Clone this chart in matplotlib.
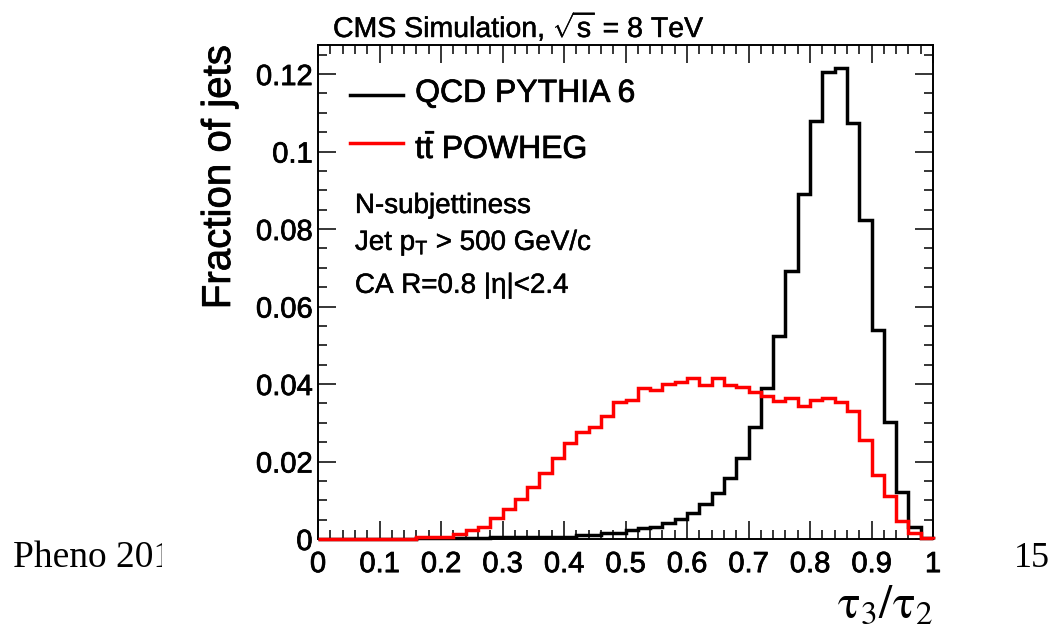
import numpy as np
import matplotlib
matplotlib.use("Agg")
import matplotlib.pyplot as plt
import matplotlib.patheffects as pe
from matplotlib.lines import Line2D
from matplotlib.ticker import MultipleLocator, FormatStrFormatter
from matplotlib.transforms import Bbox, TransformedBbox

plt.rcParams["font.family"] = ["Liberation Sans", "DejaVu Sans"]
plt.rcParams["mathtext.fontset"] = "custom"
plt.rcParams["mathtext.rm"] = "Liberation Sans"
plt.rcParams["mathtext.it"] = "Liberation Sans"
plt.rcParams["mathtext.bf"] = "Liberation Sans:bold"

# tau3/tau2 binning: 50 bins from 0 to 1
bin_edges = np.linspace(0.0, 1.0, 51)

# QCD PYTHIA 6, fraction of jets per bin
qcd_frac = [
    0, 0, 0, 0, 0, 0, 0, 0, 0.0002, 0.0002,
    0.0002, 0.0002, 0.0002, 0.0002, 0.0004, 0.0004, 0.0004, 0.0005, 0.0005, 0.0006,
    0.0006, 0.0010, 0.0010, 0.0015, 0.0015, 0.0023, 0.0028, 0.0032, 0.0042, 0.0051,
    0.0068, 0.0090, 0.0118, 0.0157, 0.0210, 0.0290, 0.0391, 0.0524, 0.0692, 0.0890,
    0.1079, 0.1206, 0.1215, 0.1073, 0.0823, 0.0539, 0.0303, 0.0122, 0.0032, 0.0003,
]

# ttbar POWHEG, fraction of jets per bin
ttbar_frac = [
    0, 0, 0, 0, 0, 0, 0, 0, 0.0004, 0.0005,
    0.0006, 0.0013, 0.0022, 0.0031, 0.0055, 0.0077, 0.0102, 0.0135, 0.0170, 0.0210,
    0.0249, 0.0277, 0.0290, 0.0318, 0.0354, 0.0359, 0.0389, 0.0385, 0.0399, 0.0406,
    0.0415, 0.0397, 0.0415, 0.0397, 0.0393, 0.0380, 0.0369, 0.0357, 0.0365, 0.0343,
    0.0360, 0.0365, 0.0354, 0.0331, 0.0255, 0.0165, 0.0111, 0.0047, 0.0016, 0.0003,
]

labels = ["QCD PYTHIA 6", r"$\mathrm{t\bar{t}}$ POWHEG"]
colors = ["black", "#ff0000"]

# slightly heavier glyphs, like the ROOT output
heavy = [pe.withStroke(linewidth=0.55, foreground="black")]
light = [pe.withStroke(linewidth=0.35, foreground="black")]

W, H = 1054, 630
fig = plt.figure(figsize=(W / 100, H / 100), dpi=100)
ax = fig.add_axes([318 / W, 1 - 539 / H, (933 - 318) / W, (539 - 45) / H])

ax.stairs(qcd_frac, bin_edges, color=colors[0], lw=2.5, zorder=3, clip_on=False)
ax.stairs(ttbar_frac, bin_edges, color=colors[1], lw=2.5, zorder=3.1, clip_on=False)

ax.set_xlim(0, 1)
ax.set_ylim(0, 0.1275)

# ROOT-like ticks on every side
ax.xaxis.set_major_locator(MultipleLocator(0.1))
ax.xaxis.set_minor_locator(MultipleLocator(0.02))
ax.yaxis.set_major_locator(MultipleLocator(0.02))
ax.yaxis.set_minor_locator(MultipleLocator(0.005))
ax.xaxis.set_major_formatter(FormatStrFormatter("%g"))
ax.yaxis.set_major_formatter(FormatStrFormatter("%g"))
ax.tick_params(which="both", direction="in", top=True, right=True, width=1.1)
ax.tick_params(which="major", length=13)
ax.tick_params(which="minor", length=6.5)
ax.tick_params(axis="x", labelsize=21, pad=8)
ax.tick_params(axis="y", labelsize=21, pad=4)
for lab in ax.get_xticklabels() + ax.get_yticklabels():
    lab.set_path_effects(heavy)
for sp in ax.spines.values():
    sp.set_linewidth(1.4)

# legend
for i, (lab, c) in enumerate(zip(labels, colors)):
    y = [0.899, 0.802][i]
    ax.add_line(Line2D([0.052, 0.138], [y, y], color=c, lw=2.5, transform=ax.transAxes))
    ax.text(0.158, [0.885, 0.771][i], lab, transform=ax.transAxes, fontsize=23,
            va="baseline", path_effects=heavy)

# selection text
info = ["N-subjettiness", r"Jet p$_\mathrm{T}$ > 500 GeV/c", r"CA R=0.8 |$\eta$|<2.4"]
for txt, y in zip(info, [0.660, 0.585, 0.498]):
    ax.text(0.06, y, txt, transform=ax.transAxes, fontsize=20, va="baseline",
            path_effects=light)

fig.text(333 / W, 1 - 37 / H, r"CMS Simulation, $\sqrt{\mathrm{s}}$ = 8 TeV", fontsize=20.5,
         va="baseline", path_effects=light)
fig.text(219 / W, 1 - 45 / H, "Fraction of jets", fontsize=29, rotation=90, ha="center",
         va="top", path_effects=heavy)
fig.text(933 / W, 1 - 628 / H, r"$\mathrm{\tau}_3/\mathrm{\tau}_2$", fontsize=34, ha="right",
         va="bottom", math_fontfamily="stix")

# footer
t = fig.text(13 / W, 1 - 567 / H, "Pheno 2013", fontsize=27, family="Liberation Serif", va="baseline")
t.set_clip_box(TransformedBbox(Bbox([[0, 0], [162 / W, 1]]), fig.transFigure))
t.set_clip_on(True)
fig.text(1050 / W, 1 - 567 / H, "15", fontsize=26, family="Liberation Serif", ha="right", va="baseline")

fig.savefig("out.png", dpi=100)
